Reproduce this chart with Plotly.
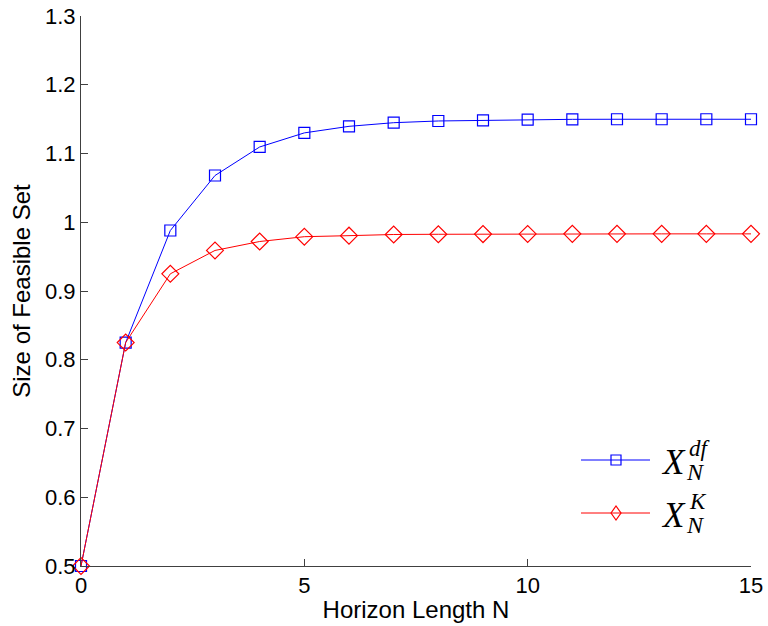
import plotly.graph_objects as go

# Horizon length N and feasible-set sizes for the two constructions
horizon = list(range(16))
size_df = [0.5, 0.825, 0.988, 1.068, 1.1095, 1.130, 1.1395, 1.1448, 1.1473,
           1.1483, 1.1492, 1.1497, 1.1498, 1.1498, 1.1498, 1.1498]
size_k = [0.5, 0.825, 0.925, 0.959, 0.972, 0.979, 0.9805, 0.9822, 0.9825,
          0.9828, 0.9830, 0.9831, 0.9831, 0.9831, 0.9831, 0.9831]

x_ticks = [0, 5, 10, 15]
y_ticks = [0.5, 0.6, 0.7, 0.8, 0.9, 1.0, 1.1, 1.2, 1.3]
y_tick_text = ["0.5", "0.6", "0.7", "0.8", "0.9", "1", "1.1", "1.2", "1.3"]

BLUE = "#0000ff"
RED = "#ff0000"
AXIS = "#404040"

# plot-area geometry in pixels
W, H = 768, 626
L, R, T, B = 81, 17, 16, 60
PW, PH = W - L - R, H - T - B


def px(x):
    return (x - L) / PW


def py(y):
    return (H - B - y) / PH


fig = go.Figure()
fig.add_trace(go.Scatter(
    x=horizon, y=size_df, mode="lines+markers", cliponaxis=False,
    line=dict(color=BLUE, width=1),
    marker=dict(symbol="square-open", size=11, color=BLUE, line=dict(width=1.2)),
    showlegend=False,
))
fig.add_trace(go.Scatter(
    x=horizon, y=size_k, mode="lines+markers", cliponaxis=False,
    line=dict(color=RED, width=1),
    marker=dict(symbol="diamond-open", size=13, color=RED, line=dict(width=1.2)),
    showlegend=False,
))

# legend samples
shapes = []
for y0, col, kind in [(460, BLUE, "sq"), (513, RED, "di")]:
    shapes.append(dict(type="line", xref="paper", yref="paper",
                       x0=px(581), x1=px(650), y0=py(y0), y1=py(y0),
                       line=dict(color=col, width=1)))
    cx = 616
    if kind == "sq":
        shapes.append(dict(type="rect", xref="paper", yref="paper",
                           x0=px(cx - 5), x1=px(cx + 5), y0=py(y0 + 5), y1=py(y0 - 5),
                           line=dict(color=col, width=1.2)))
    else:
        path = (f"M {px(cx - 5)},{py(y0)} L {px(cx)},{py(y0 - 7)} "
                f"L {px(cx + 5)},{py(y0)} L {px(cx)},{py(y0 + 7)} Z")
        shapes.append(dict(type="path", xref="paper", yref="paper", path=path,
                           line=dict(color=col, width=1.2)))

serif = "Liberation Serif"
ann = []
for y0, sup in [(460, "df"), (513, "K")]:
    ann.append(dict(x=px(659), y=py(y0 + 2), xref="paper", yref="paper",
                    text="<i>X</i>", showarrow=False, xanchor="left", yanchor="middle",
                    font=dict(family=serif, size=35, color="black")))
    ann.append(dict(x=px(687), y=py(y0 - 12), xref="paper", yref="paper",
                    text=f"<i>{sup}</i>", showarrow=False, xanchor="left", yanchor="middle",
                    font=dict(family=serif, size=23, color="black")))
    ann.append(dict(x=px(684), y=py(y0 + 12), xref="paper", yref="paper",
                    text="<i>N</i>", showarrow=False, xanchor="left", yanchor="middle",
                    font=dict(family=serif, size=24, color="black")))

fig.update_layout(
    width=W, height=H,
    margin=dict(l=L, r=R, t=T, b=B),
    paper_bgcolor="white", plot_bgcolor="white",
    font=dict(family="Liberation Sans, Arial, sans-serif", size=22, color="black"),
    shapes=shapes, annotations=ann,
    xaxis=dict(range=[0, 15], tickvals=x_ticks, ticks="inside", ticklen=7,
               tickcolor=AXIS, showline=True, linecolor=AXIS, linewidth=1,
               showgrid=False, zeroline=False, automargin=False,
               title=dict(text="Horizon Length N", standoff=3,
                          font=dict(size=24)),
               tickfont=dict(size=22)),
    yaxis=dict(range=[0.5, 1.3], tickvals=y_ticks, ticktext=y_tick_text,
               ticks="inside", ticklen=7, tickcolor=AXIS, showline=True,
               linecolor=AXIS, linewidth=1, showgrid=False, zeroline=False,
               automargin=False,
               title=dict(text="Size of Feasible Set", standoff=7,
                          font=dict(size=24)),
               tickfont=dict(size=22)),
)

fig.write_html("out.html")
